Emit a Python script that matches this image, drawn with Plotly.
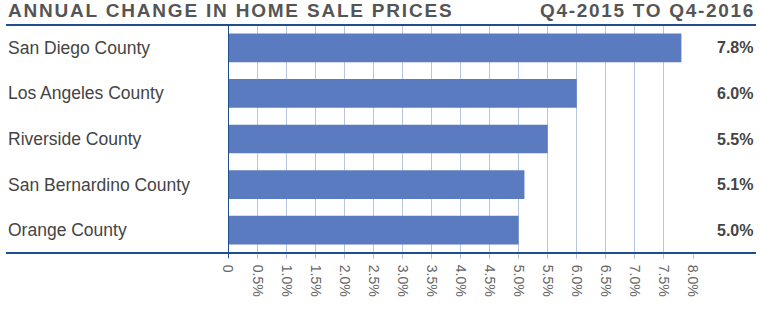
import plotly.graph_objects as go

categories = ["San Diego County", "Los Angeles County", "Riverside County",
              "San Bernardino County", "Orange County"]
values = [7.8, 6.0, 5.5, 5.1, 5.0]
tick_vals = [0, 0.5, 1.0, 1.5, 2.0, 2.5, 3.0, 3.5, 4.0, 4.5, 5.0, 5.5, 6.0, 6.5, 7.0, 7.5, 8.0]
tick_text = ["0"] + [f"{v:.1f}%" for v in tick_vals[1:]]
title_left = "ANNUAL CHANGE IN HOME SALE PRICES"
title_right = "Q4-2015 TO Q4-2016"

W, H = 760, 314
L, R, T, B = 228, 67, 25, 61
pw = W - L - R
ph = H - T - B

NAVY = "#1f4e8c"
GRID = "#b7c6de"
BAR = "#5a7bbf"
FONT = "Arial, Liberation Sans, sans-serif"

fig = go.Figure()
fig.add_trace(go.Bar(
    x=values, y=categories, orientation="h",
    marker=dict(color=BAR, line=dict(width=0)),
    width=0.63, hoverinfo="skip",
))

def px_x(p):
    return (p - L) / pw

def px_y(p):
    return 1 - (p - T) / ph

annotations = []
for c, v in zip(categories, values):
    annotations.append(dict(
        x=px_x(6), xref="paper", y=c, yref="y", xanchor="left", yanchor="middle",
        text=c, showarrow=False, font=dict(family=FONT, size=17.5, color="#444444")))
    annotations.append(dict(
        x=px_x(755), xref="paper", y=c, yref="y", xanchor="right", yanchor="middle",
        text=f"<b>{v:.1f}%</b>", showarrow=False,
        font=dict(family=FONT, size=16, color="#444444")))

annotations.append(dict(
    x=px_x(6), xref="paper", y=px_y(10.5), yref="paper", xanchor="left", yanchor="middle",
    text=f'<span style="letter-spacing:1.8px"><b>{title_left}</b></span>', showarrow=False,
    font=dict(family=FONT, size=19, color="#555555")))
annotations.append(dict(
    x=px_x(757), xref="paper", y=px_y(10.5), yref="paper", xanchor="right", yanchor="middle",
    text=f'<span style="letter-spacing:1.7px"><b>{title_right}</b></span>', showarrow=False,
    font=dict(family=FONT, size=19, color="#555555")))

shapes = [
    dict(type="line", xref="paper", yref="paper", x0=px_x(6), x1=px_x(756), y0=1, y1=1,
         line=dict(color=NAVY, width=2)),
    dict(type="line", xref="paper", yref="paper", x0=px_x(6), x1=px_x(756), y0=0, y1=0,
         line=dict(color=NAVY, width=2)),
    dict(type="line", xref="x", yref="paper", x0=0, x1=0, y0=-5 / ph, y1=1,
         line=dict(color=NAVY, width=2)),
]

fig.update_layout(
    width=W, height=H,
    margin=dict(l=L, r=R, t=T, b=B, pad=0),
    paper_bgcolor="white", plot_bgcolor="white",
    showlegend=False, bargap=0.37,
    annotations=annotations, shapes=shapes,
    xaxis=dict(range=[0, 8], tickmode="array", tickvals=tick_vals, ticktext=tick_text,
               tickangle=90, showgrid=True, gridcolor=GRID, gridwidth=1,
               zeroline=False, showline=False, ticks="outside", ticklen=5,
               tickcolor=GRID, tickwidth=1, ticklabelstandoff=3,
               tickfont=dict(family=FONT, size=14, color="#666666"), fixedrange=True),
    yaxis=dict(autorange="reversed", showticklabels=False, showgrid=False,
               zeroline=False, showline=False, ticks="", fixedrange=True),
)

fig.write_html("out.html")
